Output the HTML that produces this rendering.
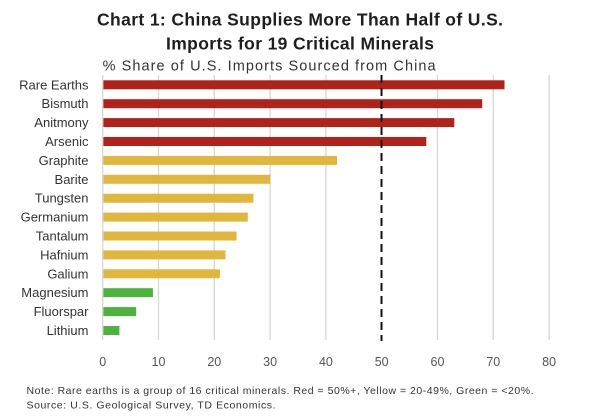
<!DOCTYPE html>
<html>
<head>
<meta charset="utf-8">
<style>
html,body{margin:0;padding:0;background:#fff;}
svg{display:block;}
text{font-family:"Liberation Sans",sans-serif;}
</style>
</head>
<body>
<svg width="600" height="420" viewBox="0 0 600 420" xmlns="http://www.w3.org/2000/svg">
<rect width="600" height="420" fill="#fff"/>
<!-- Title -->
<text x="97" y="25.5" font-size="17.5" font-weight="bold" fill="#1e1e1e" textLength="406" lengthAdjust="spacing">Chart 1: China Supplies More Than Half of U.S.</text>
<text x="166" y="49.5" font-size="17.5" font-weight="bold" fill="#1e1e1e" textLength="268" lengthAdjust="spacing">Imports for 19 Critical Minerals</text>
<text x="102.6" y="70.5" font-size="14.5" fill="#333" textLength="333" lengthAdjust="spacing">% Share of U.S. Imports Sourced from China</text>

<!-- gridlines -->
<g stroke="#d6d6d6" stroke-width="1.3">
<line x1="102.7" y1="75" x2="102.7" y2="340"/>
<line x1="158.5" y1="75" x2="158.5" y2="340"/>
<line x1="214.3" y1="75" x2="214.3" y2="340"/>
<line x1="270.1" y1="75" x2="270.1" y2="340"/>
<line x1="325.9" y1="75" x2="325.9" y2="340"/>
<line x1="437.5" y1="75" x2="437.5" y2="340"/>
<line x1="493.3" y1="75" x2="493.3" y2="340"/>
<line x1="549.1" y1="75" x2="549.1" y2="340"/>
</g>

<!-- bars -->
<g>
<rect x="103.4" y="80.3" width="401.1" height="9" fill="#B0231A"/>
<rect x="103.4" y="99.2" width="378.8" height="9" fill="#B0231A"/>
<rect x="103.4" y="118.1" width="350.9" height="9" fill="#B0231A"/>
<rect x="103.4" y="137.0" width="322.9" height="9" fill="#B0231A"/>
<rect x="103.4" y="155.9" width="233.7" height="9" fill="#E1B63D"/>
<rect x="103.4" y="174.8" width="166.7" height="9" fill="#E1B63D"/>
<rect x="103.4" y="193.7" width="150.0" height="9" fill="#E1B63D"/>
<rect x="103.4" y="212.6" width="144.4" height="9" fill="#E1B63D"/>
<rect x="103.4" y="231.5" width="133.2" height="9" fill="#E1B63D"/>
<rect x="103.4" y="250.4" width="122.1" height="9" fill="#E1B63D"/>
<rect x="103.4" y="269.3" width="116.5" height="9" fill="#E1B63D"/>
<rect x="103.4" y="288.2" width="49.5" height="9" fill="#4DB33D"/>
<rect x="103.4" y="307.1" width="32.8" height="9" fill="#4DB33D"/>
<rect x="103.4" y="326.0" width="16.0" height="9" fill="#4DB33D"/>
</g>

<!-- dashed 50% line -->
<line x1="381.5" y1="75" x2="381.5" y2="341" stroke="#111" stroke-width="2" stroke-dasharray="8,5"/>

<!-- category labels -->
<g font-size="13" fill="#333" text-anchor="end">
<text x="88.5" y="89.3">Rare Earths</text>
<text x="88.5" y="108.2">Bismuth</text>
<text x="88.5" y="127.1">Anitmony</text>
<text x="88.5" y="146.0">Arsenic</text>
<text x="88.5" y="164.9">Graphite</text>
<text x="88.5" y="183.8">Barite</text>
<text x="88.5" y="202.7">Tungsten</text>
<text x="88.5" y="221.6">Germanium</text>
<text x="88.5" y="240.5">Tantalum</text>
<text x="88.5" y="259.4">Hafnium</text>
<text x="88.5" y="278.3">Galium</text>
<text x="88.5" y="297.2">Magnesium</text>
<text x="88.5" y="316.1">Fluorspar</text>
<text x="88.5" y="335.0">Lithium</text>
</g>

<!-- x tick labels -->
<g font-size="12.5" fill="#555" text-anchor="middle">
<text x="102.7" y="366">0</text>
<text x="158.5" y="366">10</text>
<text x="214.3" y="366">20</text>
<text x="270.1" y="366">30</text>
<text x="325.9" y="366">40</text>
<text x="381.7" y="366">50</text>
<text x="437.5" y="366">60</text>
<text x="493.3" y="366">70</text>
<text x="549.1" y="366">80</text>
</g>

<!-- notes -->
<text x="26.5" y="394" font-size="10.5" fill="#333" textLength="507" lengthAdjust="spacing">Note: Rare earths is a group of 16 critical minerals. Red = 50%+, Yellow = 20-49%, Green = &lt;20%.</text>
<text x="26.5" y="408.3" font-size="10.5" fill="#333" textLength="249" lengthAdjust="spacing">Source: U.S. Geological Survey, TD Economics.</text>
</svg>
</body>
</html>
